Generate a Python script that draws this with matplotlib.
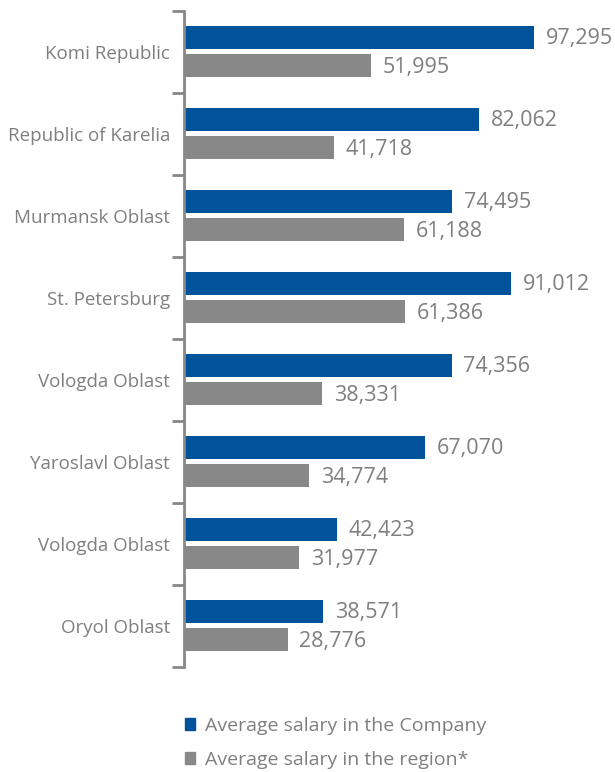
import matplotlib.pyplot as plt
import numpy as np
from matplotlib.patches import Patch

# data
regions = ['Komi Republic', 'Republic of Karelia', 'Murmansk Oblast', 'St. Petersburg',
           'Vologda Oblast', 'Yaroslavl Oblast', 'Vologda Oblast', 'Oryol Oblast']
company = [97295, 82062, 74495, 91012, 74356, 67070, 42423, 38571]
region = [51995, 41718, 61188, 61386, 38331, 34774, 31977, 28776]

blue = '#00529b'
grey = '#888888'
txt = '#7f7f7f'

plt.rcParams['font.family'] = ['Open Sans', 'DejaVu Sans']

fig = plt.figure(figsize=(6.15, 7.72), dpi=100)
ax = fig.add_axes([184/615, 1-667/772, 1-184/615, 656/772])

y = np.arange(len(regions))
h = 0.28
ax.barh(y - 0.18, company, height=h, color=blue)
ax.barh(y + 0.17, region, height=h, color=grey)

for i in range(len(regions)):
    ax.text(company[i] + 3300, y[i] - 0.16, f'{company[i]:,}', va='center', ha='left',
            fontsize=15.5, color=txt)
    ax.text(region[i] + 3300, y[i] + 0.19, f'{region[i]:,}', va='center', ha='left',
            fontsize=15.5, color=txt)

ax.set_xlim(0, 119800)
ax.set_ylim(7.5, -0.5)
ax.set_xticks([])
ax.set_yticks(y)
ax.set_yticklabels(regions, fontsize=13.5, color=txt)
ax.set_yticks(np.arange(-0.5, 8, 1), minor=True)
ax.tick_params(axis='y', which='major', length=0, pad=10)
ax.tick_params(axis='y', which='minor', length=9, width=2, color=grey, direction='out')
for s in ['top', 'right', 'bottom']:
    ax.spines[s].set_visible(False)
ax.spines['left'].set_color(grey)
ax.spines['left'].set_linewidth(2)

handles = [Patch(color=blue, label='Average salary in the Company'),
           Patch(color=grey, label='Average salary in the region*')]
leg = fig.legend(handles=handles, loc='upper left', bbox_to_anchor=(171/615, 1-703/772),
                 frameon=False, fontsize=14, handlelength=0.55, handleheight=0.55,
                 handletextpad=0.5, labelspacing=0.85, borderpad=0.2)
for t in leg.get_texts():
    t.set_color(txt)

fig.savefig('out.png', dpi=100)
